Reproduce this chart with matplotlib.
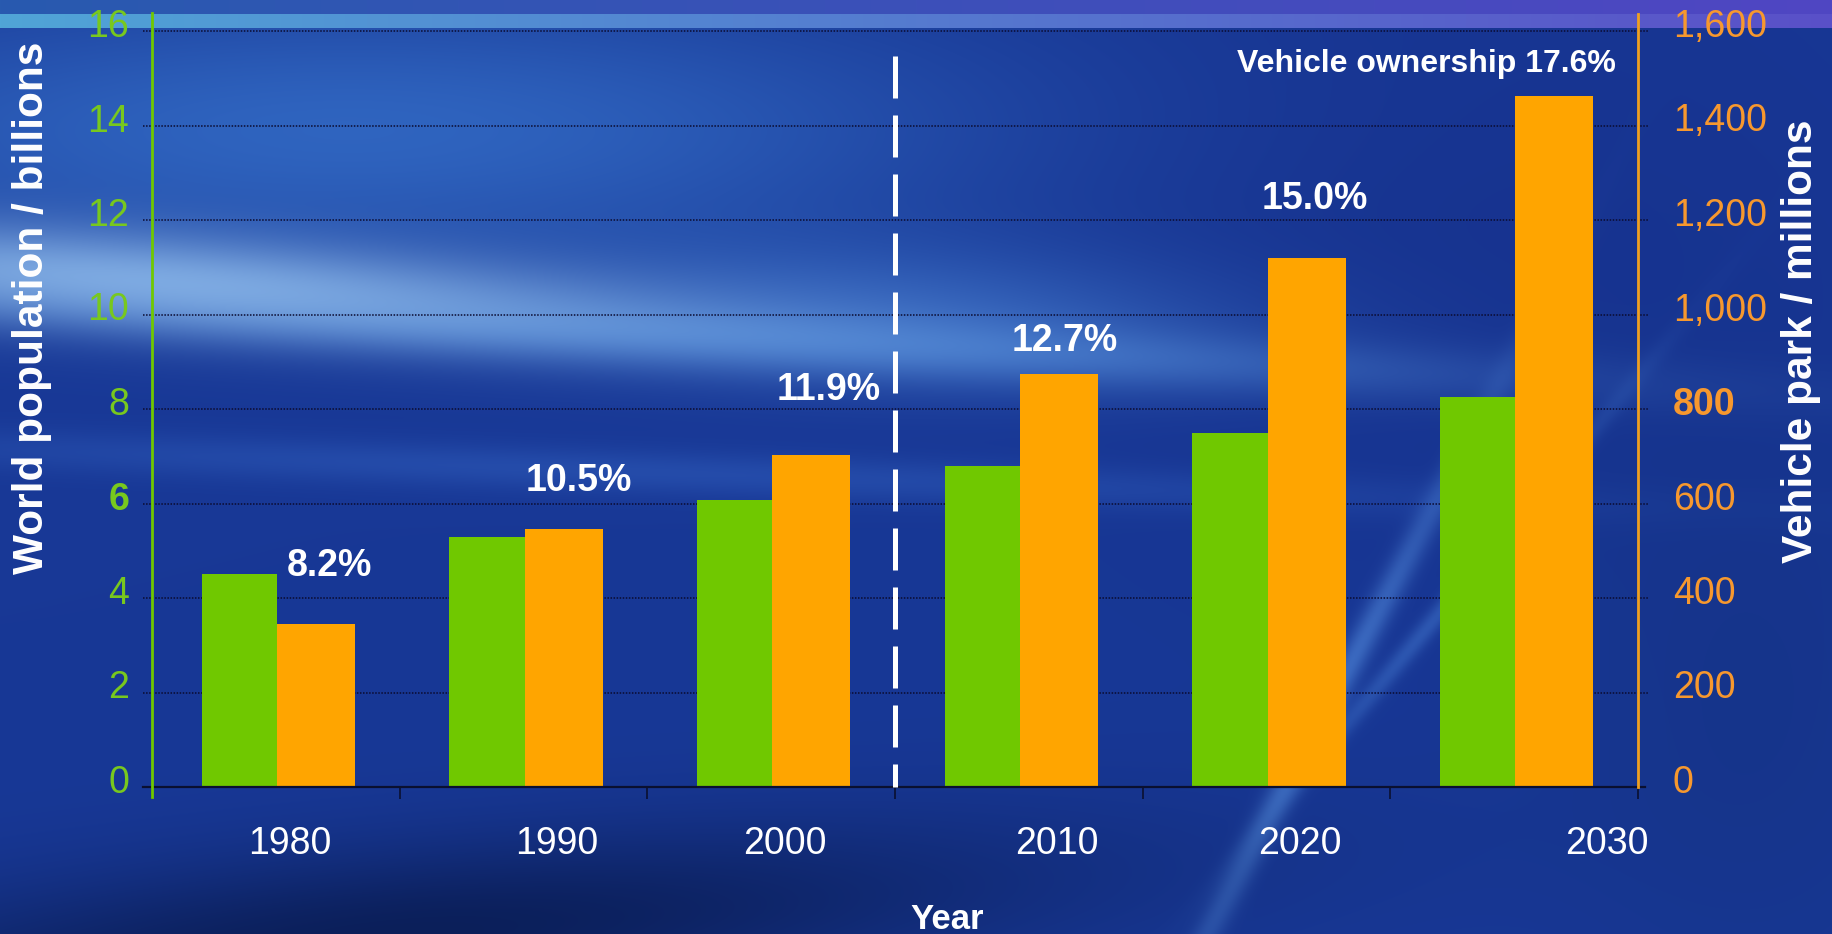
import matplotlib.pyplot as plt
import matplotlib.transforms as mtransforms
import numpy as np

plt.rcParams['font.family'] = ['Liberation Sans', 'DejaVu Sans']

# data
years = ['1980', '1990', '2000', '2010', '2020', '2030']
population = [4.5, 5.3, 6.07, 6.8, 7.5, 8.25]      # billions
vehicles = [345, 546, 703, 874, 1120, 1462]         # millions
ownership = ['8.2%', '10.5%', '11.9%', '12.7%', '15.0%', 'Vehicle ownership 17.6%']
pop_ticks = [0, 2, 4, 6, 8, 10, 12, 14, 16]
veh_ticks = [0, 200, 400, 600, 800, 1000, 1200, 1400, 1600]

# label placement (x in category units, y in billions), the slide puts them by hand
own_x = [0.718, 1.723, 2.732, 3.684, 4.697, 5.912]
own_y = [4.47, 6.26, 8.19, 9.23, 12.23, 15.13]
year_x = [0.557, 1.634, 2.554, 3.652, 4.633, 5.876]

GREEN = '#70c800'
ORANGE = '#ffa500'
GREEN_TXT = '#78c81e'
ORANGE_TXT = '#f7982e'
W, H = 1832, 934

fig = plt.figure(figsize=(W / 100, H / 100), dpi=100)

# --- blue slide background ---
yy, xx = np.mgrid[0:H, 0:W].astype(float)
img = np.empty((H, W, 3))
img[:] = np.array([24, 56, 150]) / 255


def blend(cx, cy, sx, sy, ang, color, amp):
    global img
    a = np.deg2rad(ang)
    dx, dy = xx - cx, yy - cy
    u = dx * np.cos(a) + dy * np.sin(a)
    v = -dx * np.sin(a) + dy * np.cos(a)
    g = (amp * np.exp(-(u / sx) ** 2 - (v / sy) ** 2))[..., None]
    img = img + g * (np.array(color) / 255 - img)


blend(350, 130, 650, 130, 0, (55, 115, 205), 0.75)
blend(1500, 250, 450, 350, 0, (22, 48, 140), 0.6)
blend(900, 310, 350, 70, 3, (70, 130, 215), 0.5)
blend(700, 335, 750, 30, 3, (90, 150, 225), 0.6)
blend(150, 280, 560, 50, 4, (140, 185, 235), 0.85)
blend(600, 470, 900, 22, 2, (55, 105, 200), 0.4)
blend(1320, 720, 330, 14, -62, (90, 150, 230), 0.55)
blend(1450, 600, 260, 10, -50, (80, 140, 225), 0.4)
blend(400, 935, 650, 90, -5, (8, 25, 75), 0.8)
blend(1750, 700, 200, 300, 0, (20, 50, 130), 0.5)

# top strip
t = xx[0] / W
img[:14] = (np.outer(1 - t, [40, 90, 175]) + np.outer(t, [80, 70, 195]))[None] / 255
img[14:28] = (np.outer(1 - t, [80, 165, 215]) + np.outer(t, [90, 80, 200]))[None] / 255

bg = fig.add_axes([0, 0, 1, 1], zorder=-10)
bg.imshow(np.clip(img, 0, 1), aspect='auto', extent=[0, 1, 0, 1], interpolation='bilinear')
bg.axis('off')

# --- chart ---
ax = fig.add_axes([152 / W, 1 - 787 / H, 1486 / W, 756 / H])
ax.patch.set_visible(False)
ax2 = ax.twinx()
ax2.patch.set_visible(False)

centre = np.arange(len(years)) + 0.5
ax.bar(centre + 0.005, population, width=-0.305, align='edge', color=GREEN, zorder=3)
ax2.bar(centre + 0.005, vehicles, width=0.315, align='edge', color=ORANGE, zorder=3)

ax.set_xlim(0, len(years))
ax.set_ylim(pop_ticks[0], pop_ticks[-1])
ax2.set_ylim(veh_ticks[0], veh_ticks[-1])

for s in list(ax.spines.values()) + list(ax2.spines.values()):
    s.set_visible(False)

# dotted grid, sticks out a little past both axes
for v in pop_ticks[1:]:
    ax.axhline(v, xmin=-0.006, xmax=1.007, color='#0b0b30', lw=1.1,
               ls=(0, (1, 1)), zorder=1, clip_on=False)
ax2.axhline(0, xmin=-0.006, xmax=1.005, color='#0a1030', lw=1.6, zorder=4, clip_on=False)
ax2.axvline(0, ymin=-0.013, ymax=1.024, color=GREEN, lw=2, zorder=5, clip_on=False)
ax2.axvline(len(years), ymin=0, ymax=1.022, color='#f0a020', lw=2, zorder=5, clip_on=False)

# ticks
ax.set_xticks(range(len(years) + 1))
ax.set_xticks(year_x, labels=years, minor=True)
ax.tick_params(axis='x', which='major', length=8.6, width=1.2, color='#0a1030',
               direction='out', labelbottom=False)
ax.tick_params(axis='x', which='minor', length=0, pad=28, labelsize=27, labelcolor='white')

ax.set_yticks(pop_ticks, labels=[str(v) for v in pop_ticks])
ax.tick_params(axis='y', length=0, pad=16.5, labelsize=27, labelcolor=GREEN_TXT)
ax2.set_yticks(veh_ticks, labels=[f'{v:,}' for v in veh_ticks])
ax2.tick_params(axis='y', length=0, pad=25, labelsize=27, labelcolor=ORANGE_TXT)

shift = mtransforms.ScaledTranslation(0, 0.08, fig.dpi_scale_trans)
for lbl in ax.get_yticklabels():
    lbl.set_transform(lbl.get_transform() + shift)
    if lbl.get_text() == '6':
        lbl.set_fontweight('bold')
for lbl in ax2.get_yticklabels():
    lbl.set_transform(lbl.get_transform() + shift)
    if lbl.get_text() == '800':
        lbl.set_fontweight('bold')

# forecast separator between 2000 and 2010
ax2.plot([3, 3], [15.47, 0], transform=ax.transData, color='white', lw=3.6,
         dashes=(8.4, 3.4), dash_capstyle='butt', zorder=6, clip_on=False)

# ownership percentages
for i, txt in enumerate(ownership):
    last = i == len(ownership) - 1
    ax2.text(own_x[i], own_y[i], txt, transform=ax.transData, color='white',
             fontweight='bold', fontsize=23 if last else 27,
             ha='right' if last else 'center', va='baseline', zorder=7)

fig.text(32 / W, 1 - 308 / H, 'World population / billions', rotation=90,
         ha='center', va='center', color='white', fontweight='bold', fontsize=30.5)
fig.text(1801 / W, 1 - 341 / H, 'Vehicle park / millions', rotation=90,
         ha='center', va='center', color='white', fontweight='bold', fontsize=30.5)
fig.text(947 / W, 1 - 929 / H, 'Year', ha='center', va='baseline',
         color='white', fontweight='bold', fontsize=25)

fig.savefig('out.png', dpi=100)
